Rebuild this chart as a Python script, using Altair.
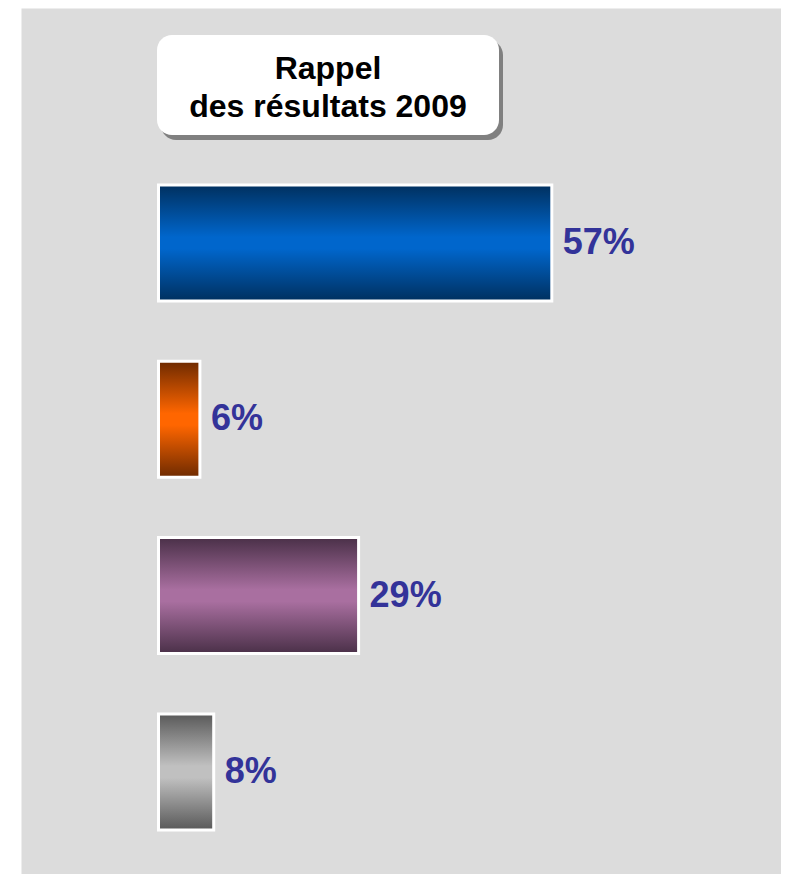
import altair as alt
import pandas as pd

# ---- data ----
categories = ["Barre 1", "Barre 2", "Barre 3", "Barre 4"]
values = [57, 6, 29, 8]
labels = ["57%", "6%", "29%", "8%"]
dark_colors = ["#00305f", "#6e2a00", "#4a3048", "#595959"]
light_colors = ["#0066cc", "#ff6600", "#a96fa0", "#c0c0c0"]
title_lines = ["Rappel", "des résultats 2009"]

df = pd.DataFrame({"cat": categories, "value": values, "label": labels})
one = pd.DataFrame({"k": [0]})

FONT = "Liberation Sans"

x_enc = alt.X("value:Q", axis=None,
              scale=alt.Scale(domain=[0, 100], range=[137.5, 827.5]))
y_enc = alt.Y("cat:N", axis=None, sort=None,
              scale=alt.Scale(domain=categories, range=[146.85, 852.05],
                              paddingInner=0.342, paddingOuter=0.171))

layers = []

# title box shadow + box + text
shadow = alt.Chart(one).mark_rect(fill="#808080", cornerRadius=15).encode(
    x=alt.value(140), x2=alt.value(482), y=alt.value(32), y2=alt.value(132))
box = alt.Chart(one).mark_rect(fill="white", cornerRadius=15).encode(
    x=alt.value(136), x2=alt.value(478), y=alt.value(27), y2=alt.value(127))
title = alt.Chart(one).mark_text(
    text=title_lines, font=FONT, fontSize=32, fontWeight="bold", color="black",
    align="center", baseline="alphabetic", lineHeight=38,
).encode(x=alt.value(307), y=alt.value(71))
layers += [shadow, box, title]

for c, d, l in zip(categories, dark_colors, light_colors):
    grad = {
        "gradient": "linear", "x1": 0, "y1": 0, "x2": 0, "y2": 1,
        "stops": [
            {"offset": 0, "color": d},
            {"offset": 0.45, "color": l},
            {"offset": 0.55, "color": l},
            {"offset": 1, "color": d},
        ],
    }
    layers.append(
        alt.Chart(df).transform_filter(alt.datum.cat == c)
        .mark_bar(fill=grad, stroke="white", strokeWidth=3)
        .encode(x=x_enc, y=y_enc)
    )

text = alt.Chart(df).mark_text(
    align="left", baseline="middle", dx=11, font=FONT, fontSize=36,
    fontWeight="bold", color="#333399",
).encode(x=x_enc, y=y_enc, text="label:N")
layers.append(text)

chart = alt.layer(*layers).properties(
    width=760, height=866,
    autosize=alt.AutoSizeParams(type="none"),
    padding={"left": 13, "top": 0, "right": 0, "bottom": 0},
    background="white",
).configure_view(fill="#dcdcdc", stroke="transparent")

chart.save("out.html", embed_options={"renderer": "svg", "actions": False})
